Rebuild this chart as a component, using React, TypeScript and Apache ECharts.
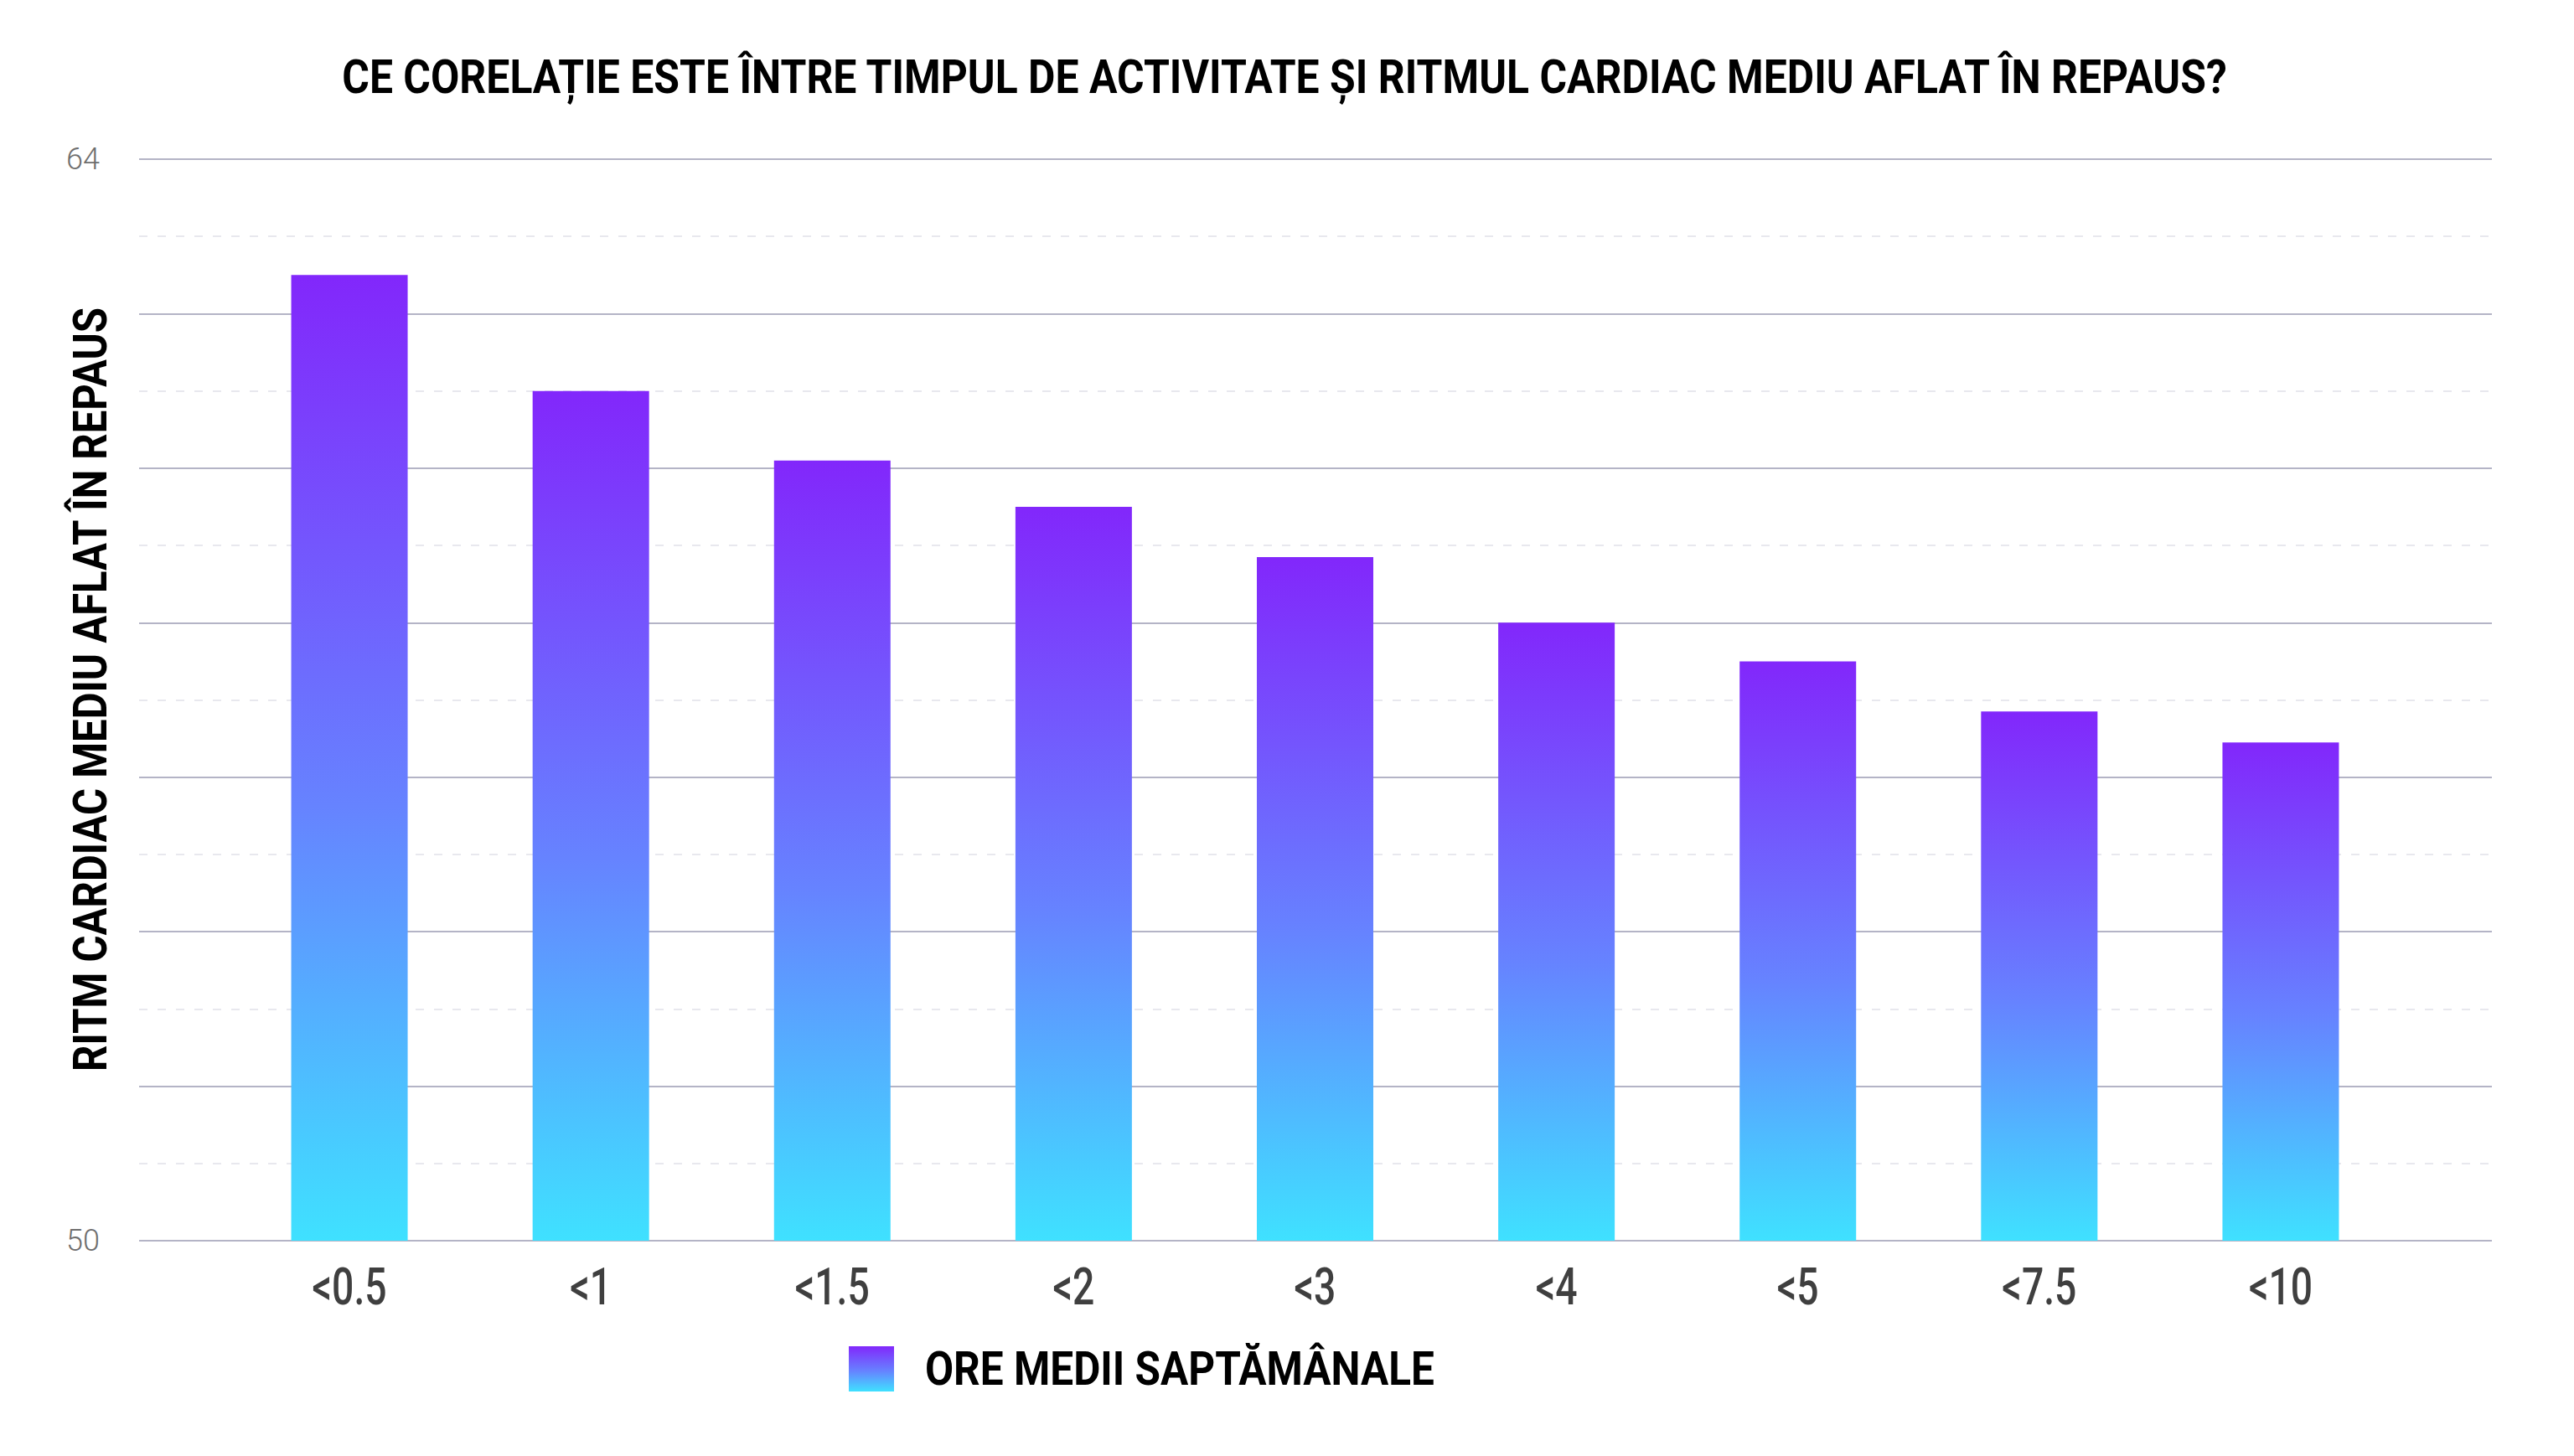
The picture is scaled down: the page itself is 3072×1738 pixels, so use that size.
// 活动时间与静息心率柱状图
import { useEffect, useRef } from 'react'
import * as echarts from 'echarts'

const categories = ['<0.5', '<1', '<1.5', '<2', '<3', '<4', '<5', '<7.5', '<10']
const restingHeartRate = [62.5, 61.0, 60.1, 59.5, 58.85, 58.0, 57.5, 56.85, 56.45]
const yMin = 50
const yMax = 64
const yShownTicks = [50, 64]

const titleText = 'CE CORELAȚIE ESTE ÎNTRE TIMPUL DE ACTIVITATE ȘI RITMUL CARDIAC MEDIU AFLAT ÎN REPAUS?'
const yAxisTitle = 'RITM CARDIAC MEDIU AFLAT ÎN REPAUS'
const seriesName = 'ORE MEDII SAPTĂMÂNALE'

const FONT = 'Roboto'

// 用 canvas 量文字宽度，好把字横向压窄成“窄体”效果
function measure(text: string, size: number, weight: string) {
  const ctx = document.createElement('canvas').getContext('2d')!
  ctx.font = `${weight} ${size}px ${FONT}`
  return ctx.measureText(text).width
}

// 压窄的文字
function narrowText(
  text: string, x: number, y: number, size: number, targetWidth: number,
  opts: { weight?: string; color?: string; align?: string; rotation?: number; scale?: number } = {}
) {
  const weight = opts.weight || 'bold'
  const sx = opts.scale ?? targetWidth / measure(text, size, weight)
  return {
    type: 'text',
    x, y,
    rotation: opts.rotation || 0,
    scaleX: sx,
    silent: true,
    style: {
      text,
      fontFamily: FONT,
      fontWeight: weight,
      fontSize: size,
      fill: opts.color || '#000',
      align: opts.align || 'center',
      verticalAlign: 'middle'
    }
  }
}

export default function App() {
  const chartRef = useRef<HTMLDivElement>(null)

  useEffect(() => {
    document.body.style.margin = '0'
    if (!chartRef.current) return
    const chart = echarts.init(chartRef.current, undefined, { renderer: 'svg' })

    const barGradient = new echarts.graphic.LinearGradient(0, 0, 0, 1, [
      { offset: 0, color: '#8227fb' },
      { offset: 0.55, color: '#6683ff' },
      { offset: 1, color: '#3fe1ff' }
    ])

    const option: echarts.EChartsOption = {
      animation: false,
      backgroundColor: '#ffffff',
      legend: {
        left: 1008,
        top: 1602,
        itemWidth: 54,
        itemHeight: 54,
        icon: 'rect',
        formatter: () => '',
        data: [seriesName]
      },
      grid: [
        // 背景网格
        { left: 166, right: 98, top: 190, bottom: 257 },
        // 柱子区域
        { left: 273, right: 206, top: 190, bottom: 257 }
      ],
      xAxis: [
        { type: 'value', gridIndex: 0, min: 0, max: 1, show: false },
        {
          type: 'category',
          gridIndex: 1,
          data: categories,
          axisLine: { show: false },
          axisTick: { show: false },
          axisLabel: { show: false }
        }
      ],
      yAxis: [
        {
          type: 'value',
          gridIndex: 0,
          min: yMin,
          max: yMax,
          interval: 2,
          axisLine: { show: false },
          axisTick: { show: false },
          axisLabel: {
            margin: 47,
            fontFamily: FONT,
            fontWeight: 300,
            fontSize: 36,
            color: '#6e6e6e',
            formatter: (v: number) => (yShownTicks.includes(v) ? String(v) : '')
          },
          splitLine: { lineStyle: { color: '#b4b4c6', width: 2 } },
          minorTick: { show: false, splitNumber: 2 },
          minorSplitLine: {
            show: true,
            lineStyle: { color: '#e8e8ee', width: 2, type: [10, 12] }
          }
        },
        { type: 'value', gridIndex: 1, min: yMin, max: yMax, show: false }
      ],
      series: [
        {
          name: seriesName,
          type: 'bar',
          xAxisIndex: 1,
          yAxisIndex: 1,
          barWidth: 139,
          data: restingHeartRate,
          itemStyle: { color: barGradient }
        }
      ]
    }

    chart.setOption(option)

    // 类目标签：位置取自坐标轴
    const labelSize = 62
    const labelScale = 89 / measure(categories[0], labelSize, '500')
    const labels = categories.map((c) => {
      const px = chart.convertToPixel({ xAxisIndex: 1 }, c) as number
      return narrowText(c, px, 1535, labelSize, 0, { weight: '500', color: '#3f3f3f', scale: labelScale })
    })

    chart.setOption({
      graphic: [
        narrowText(titleText, 1533, 92, 56, 2254),
        narrowText(yAxisTitle, 108, 823, 56, 913, { rotation: Math.PI / 2 }),
        narrowText(seriesName, 1104, 1634, 55, 608, { align: 'left' }),
        ...labels
      ]
    })

    return () => {
      chart.dispose()
    }
  }, [])

  return <div ref={chartRef} style={{ width: 3072, height: 1738 }} />
}
